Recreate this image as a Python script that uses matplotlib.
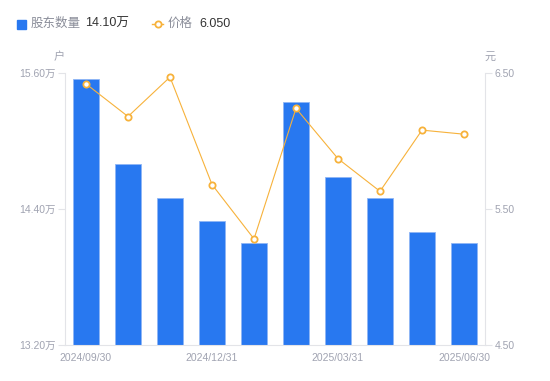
import matplotlib.pyplot as plt

plt.rcParams['font.family'] = ['Liberation Sans', 'Noto Sans CJK SC', 'DejaVu Sans']

dates = ["2024/09/30", "2024/10/31", "2024/11/30", "2024/12/31", "2025/01/31",
         "2025/02/28", "2025/03/31", "2025/04/30", "2025/05/31", "2025/06/30"]
holders = [15.55, 14.80, 14.50, 14.29, 14.10, 15.34, 14.68, 14.50, 14.20, 14.10]
price = [6.42, 6.18, 6.47, 5.68, 5.28, 6.24, 5.87, 5.63, 6.08, 6.05]
left_ticks = [13.20, 14.40, 15.60]
right_ticks = [4.50, 5.50, 6.50]

blue = '#2878f0'
orange = '#f7b23b'
grey = '#a0a3b1'
axis_c = '#e3e4e8'

fig = plt.figure(figsize=(5.5, 3.81), dpi=100)
ax = fig.add_axes([65/550, 1-345/381, 420/550, 272/381])
x = list(range(len(dates)))
ax.bar(x, [h - 13.20 for h in holders], bottom=13.20, width=0.6, color=blue,
       edgecolor='#8fb6f5', linewidth=0.6, zorder=2)
ax.set_ylim(13.20, 15.60)
ax.set_xlim(-0.5, len(dates) - 0.5)
ax.set_yticks(left_ticks)
ax.set_yticklabels([f"{v:.2f}万" for v in left_ticks])
ax.set_xticks([0, 3, 6, 9])
ax.set_xticklabels([dates[i] for i in [0, 3, 6, 9]])
ax.tick_params(axis='y', colors=axis_c, labelcolor=grey, labelsize=7.5, length=5, width=0.8, pad=2)
ax.tick_params(axis='x', length=0, labelcolor=grey, labelsize=7.5, pad=6)
for s in ['top', 'right']:
    ax.spines[s].set_visible(False)
ax.spines['left'].set_color(axis_c)
ax.spines['bottom'].set_color(axis_c)

ax2 = ax.twinx()
ax2.plot(x, price, color=orange, linewidth=0.8, marker='o', markersize=4.5,
         markerfacecolor='white', markeredgecolor=orange, markeredgewidth=1.3, zorder=3)
ax2.set_ylim(4.50, 6.50)
ax2.set_yticks(right_ticks)
ax2.set_yticklabels([f"{v:.2f}" for v in right_ticks])
ax2.tick_params(axis='y', colors=axis_c, labelcolor=grey, labelsize=7.5, length=5, width=0.8, pad=2)
for s in ['top', 'left', 'bottom']:
    ax2.spines[s].set_visible(False)
ax2.spines['right'].set_color(axis_c)

fig.text(59/550, 1-57/381, "户", color=grey, fontsize=8, ha='center', va='center')
fig.text(490/550, 1-57/381, "元", color=grey, fontsize=8, ha='center', va='center')

# legend
fig.patches.append(plt.Rectangle((17/550, 1-29/381), 9/550, 9/381, transform=fig.transFigure,
                                 color=blue, figure=fig))
fig.text(31/550, 1-24/381, "股东数量", color='#8a8d99', fontsize=9, va='center')
fig.text(85/550, 1-24/381, f"{holders[-1]:.2f}万", color='#333333', fontsize=9, va='center')
fig.lines.append(plt.Line2D([152/550, 163/550], [1-24/381, 1-24/381], transform=fig.transFigure,
                            color=orange, linewidth=1, figure=fig))
fig.lines.append(plt.Line2D([157.5/550], [1-24/381], transform=fig.transFigure,
                            marker='o', markersize=4.5, markerfacecolor='white',
                            markeredgecolor=orange, markeredgewidth=1.3, figure=fig))
fig.text(168/550, 1-24/381, "价格", color='#8a8d99', fontsize=9, va='center')
fig.text(199/550, 1-24/381, f"{price[-1]:.3f}", color='#333333', fontsize=9, va='center')

fig.savefig('out.png', dpi=100)
